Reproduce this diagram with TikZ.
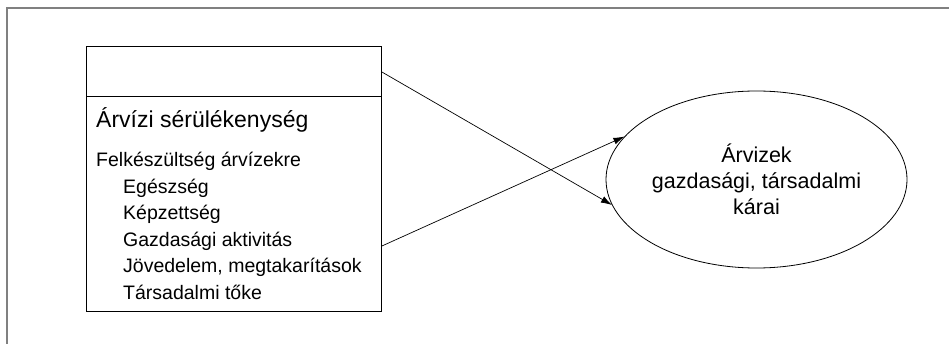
\documentclass[tikz,border=0pt]{standalone}
\usepackage{fontspec}
\setmainfont{Liberation Sans}
\usetikzlibrary{shapes.geometric,arrows.meta}

\begin{document}
\begin{tikzpicture}[x=1pt,y=-1pt,>={Latex[length=11pt,width=7pt]},
    item/.style={anchor=base west,inner sep=0pt,font=\fontsize{19.5}{23}\selectfont}]
    \useasboundingbox (0,0) rectangle (949,344);
    % frame, top and left edge only
    \draw[gray,line width=1.2pt] (7,344) -- (7,8) -- (949,8);

    % vulnerability box
    \node[draw,line width=0.9pt,minimum width=295pt,minimum height=265pt,inner sep=0pt,anchor=north west] (vuln) at (86,46) {};
    % empty upper field
    \draw[line width=0.8pt] ([yshift=-50pt]vuln.north west) -- ([yshift=-50pt]vuln.north east);

    % text in the box
    \node[item,font=\fontsize{23}{27}\selectfont] (title) at (96,128) {Árvízi sérülékenység};
    \node[item] (prep) at (96,167) {Felkészültség árvízekre};
    \foreach \txt [count=\i] in {Egészség, Képzettség, Gazdasági aktivitás, {Jövedelem, megtakarítások}, Társadalmi tőke}
        \node[item] (sub\i) at (123,167+26.4*\i) {\txt};

    % damages
    \node[draw,ellipse,line width=0.8pt,minimum width=301pt,minimum height=177pt,inner sep=0pt,align=center,
        font=\fontsize{21.5}{26}\selectfont] (harm) at (756.5,179.5) {Árvizek\\gazdasági, társadalmi\\kárai};

    % crossing arrows
    \coordinate (out1) at ([yshift=-26pt]vuln.north east);
    \coordinate (out2) at ([yshift=-200pt]vuln.north east);
    \draw[->,line width=0.7pt] (out1) -- (harm.190.8);
    \draw[->,line width=0.7pt] (out2) -- (harm.162.2);
\end{tikzpicture}
\end{document}
